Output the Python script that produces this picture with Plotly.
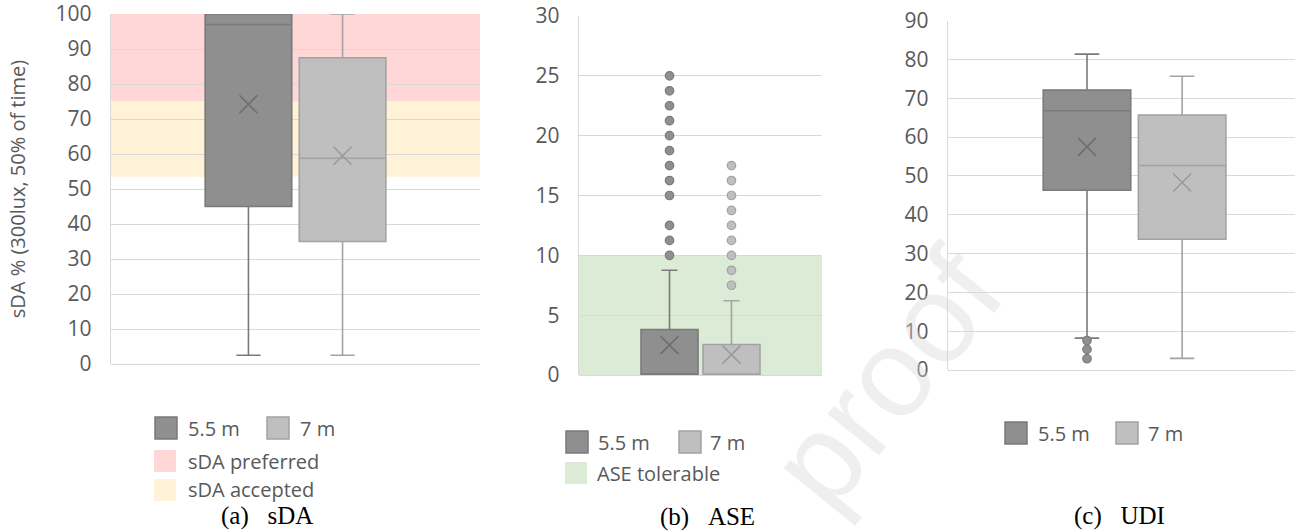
import plotly.graph_objects as go

W, H = 1295, 531

# ---------------- data ----------------
CATEGORY = ["all"]
SERIES = ["5.5 m", "7 m"]

# (a) sDA
sda_q1 = [45.0, 35.0]
sda_median = [97.0, 58.8]
sda_q3 = [100.0, 87.5]
sda_lower = [2.5, 2.5]
sda_upper = [100.0, 100.0]
sda_mean = [74.2, 59.5]
sda_outliers = [[], []]
sda_preferred = [75.0, 100.0]
sda_accepted = [53.5, 75.0]

# (b) ASE
ase_q1 = [0.0, 0.0]
ase_median = [0.0, 0.0]
ase_q3 = [3.8, 2.55]
ase_lower = [0.0, 0.0]
ase_upper = [8.75, 6.2]
ase_mean = [2.5, 1.7]
ase_outliers = [
    [10.0, 11.25, 12.5, 15.0, 16.25, 17.5, 18.75, 20.0, 21.25, 22.5, 23.75, 25.0],
    [7.5, 8.75, 10.0, 11.25, 12.5, 13.75, 15.0, 16.25, 17.5],
]
ase_tolerable = [0.0, 10.0]

# (c) UDI
udi_q1 = [46.3, 33.7]
udi_median = [66.8, 52.7]
udi_q3 = [72.1, 65.7]
udi_lower = [8.2, 3.0]
udi_upper = [81.4, 75.7]
udi_mean = [57.5, 48.3]
udi_outliers = [[7.6, 5.3, 2.9], []]

# ---------------- style ----------------
FILL = ["#8F8F8F", "#BFBFBF"]
EDGE = ["#7A7A7A", "#A3A3A3"]
MEANC = ["#6E6E6E", "#9A9A9A"]
GRID = "#D9D9D9"
TXT = "#595959"
FONT = "Open Sans"


def px(x):
    return x / W


def py(y):
    return 1 - y / H


fig = go.Figure()

panels = [
    dict(key="a", xa="x", ya="y", q1=sda_q1, med=sda_median, q3=sda_q3, lo=sda_lower,
         hi=sda_upper, mean=sda_mean, out=sda_outliers),
    dict(key="b", xa="x2", ya="y2", q1=ase_q1, med=ase_median, q3=ase_q3, lo=ase_lower,
         hi=ase_upper, mean=ase_mean, out=ase_outliers),
    dict(key="c", xa="x3", ya="y3", q1=udi_q1, med=udi_median, q3=udi_q3, lo=udi_lower,
         hi=udi_upper, mean=udi_mean, out=udi_outliers),
]

for p in panels:
    for i, s in enumerate(SERIES):
        kw = {}
        if p["out"][i]:
            kw["y"] = [p["out"][i]]
            kw["boxpoints"] = "outliers"
        else:
            kw["boxpoints"] = False
        fig.add_trace(go.Box(
            name=s, x=CATEGORY, q1=[p["q1"][i]], median=[p["med"][i]], q3=[p["q3"][i]],
            lowerfence=[p["lo"][i]], upperfence=[p["hi"][i]],
            orientation="v", jitter=0, pointpos=0, whiskerwidth=0.28,
            fillcolor=FILL[i], line=dict(color=EDGE[i], width=1.6),
            marker=dict(color=FILL[i], size=8.5, line=dict(color=EDGE[i], width=1.2)),
            offsetgroup=s, alignmentgroup=p["key"],
            xaxis=p["xa"], yaxis=p["ya"], showlegend=False, hoverinfo="skip",
            **kw))
        fig.add_trace(go.Scatter(
            x=CATEGORY, y=[p["mean"][i]], mode="markers",
            marker=dict(symbol="x-thin", size=18, color=MEANC[i],
                        line=dict(color=MEANC[i], width=1.6)),
            offsetgroup=s, alignmentgroup=p["key"],
            xaxis=p["xa"], yaxis=p["ya"], showlegend=False, hoverinfo="skip"))

# background bands
shapes = []
for (y0, y1), col, xr, yr in [
    (sda_preferred, "#FFD7D7", "x", "y"),
    (sda_accepted, "#FFF2D6", "x", "y"),
    (ase_tolerable, "#DCEBD5", "x2", "y2"),
]:
    shapes.append(dict(type="rect", xref=f"{xr} domain", yref=yr, x0=0, x1=1, y0=y0, y1=y1,
                       fillcolor=col, line=dict(width=0), layer="below"))

annotations = []


def swatch(x0, y0, fill, edge=None, size=22):
    shapes.append(dict(type="rect", xref="paper", yref="paper",
                       x0=px(x0), x1=px(x0 + size), y0=py(y0), y1=py(y0 + size),
                       fillcolor=fill,
                       line=dict(color=edge if edge else fill, width=1.5 if edge else 0)))


def label(x, y, text, size=20, color=TXT, family=FONT, xanchor="left"):
    annotations.append(dict(xref="paper", yref="paper", x=px(x), y=py(y), text=text,
                            showarrow=False, xanchor=xanchor, yanchor="middle",
                            font=dict(family=family, size=size, color=color)))


# legend (a)
swatch(155, 417, FILL[0], EDGE[0]); label(186, 428, SERIES[0])
swatch(267, 417, FILL[1], EDGE[1]); label(298, 428, SERIES[1])
swatch(154, 450, "#FFD7D7"); label(186, 461, "sDA preferred")
swatch(154, 479, "#FFF2D6"); label(186, 489, "sDA accepted")
# legend (b)
swatch(566, 431, FILL[0], EDGE[0]); label(596, 442, SERIES[0])
swatch(679, 431, FILL[1], EDGE[1]); label(708, 442, SERIES[1])
swatch(565, 462, "#DCEBD5"); label(595, 473, "ASE tolerable")
# legend (c)
swatch(1005, 422, FILL[0], EDGE[0]); label(1036, 433, SERIES[0])
swatch(1116, 422, FILL[1], EDGE[1]); label(1146, 433, SERIES[1])

# captions
cap = "\u00a0\u00a0\u00a0"
label(267, 516, "(a)" + cap + "sDA", size=25, color="black", family="Liberation Serif", xanchor="center")
label(707, 517, "(b)" + cap + "ASE", size=25, color="black", family="Liberation Serif", xanchor="center")
label(1119, 516, "(c)" + cap + "UDI", size=25, color="black", family="Liberation Serif", xanchor="center")

# faint watermark
annotations.append(dict(xref="paper", yref="paper", x=px(885), y=py(378), text="proof",
                        showarrow=False, textangle=-51, xanchor="center", yanchor="middle",
                        font=dict(family="Liberation Sans", size=125, color="rgba(215,215,215,0.4)")))


def yaxis_style(domain, rng, dtick, xa):
    return dict(domain=domain, range=rng, dtick=dtick, tick0=0, anchor=xa,
                showgrid=True, gridcolor=GRID, gridwidth=1.4,
                zeroline=True, zerolinecolor=GRID, zerolinewidth=1.4,
                showline=True, linecolor=GRID, linewidth=1.4,
                ticks="", ticklabelstandoff=14, automargin=False,
                ticklabeloverflow="allow",
                tickfont=dict(family=FONT, size=21, color=TXT), fixedrange=True)


def xaxis_style(domain, rng, ya):
    return dict(domain=domain, range=rng, anchor=ya, type="category",
                showgrid=False, zeroline=False, showline=False, showticklabels=False,
                ticks="", fixedrange=True, automargin=False)


fig.update_layout(
    width=W, height=H,
    margin=dict(l=0, r=0, t=0, b=0, autoexpand=False),
    paper_bgcolor="white", plot_bgcolor="rgba(0,0,0,0)",
    boxmode="group", boxgap=0.49, boxgroupgap=0.08,
    scattermode="group", scattergap=0.49,
    xaxis=xaxis_style([px(111), px(480)], [-0.5, 0.5], "y"),
    xaxis2=xaxis_style([px(579), px(822)], [-0.5, 0.5], "y2"),
    xaxis3=xaxis_style([px(948), 1.0], [-0.5, 0.43], "y3"),
    yaxis=yaxis_style([py(364), py(14)], [0, 100], 10, "x"),
    yaxis2=yaxis_style([py(375), py(16)], [0, 30], 5, "x2"),
    yaxis3=yaxis_style([py(370), py(20.7)], [0, 90], 10, "x3"),
    shapes=shapes, annotations=annotations,
)
fig.update_layout(yaxis_title=dict(text="sDA % (300lux, 50% of time)", standoff=24,
                                   font=dict(family=FONT, size=20, color=TXT)))

fig.write_html("out.html", config={"displayModeBar": False},
               post_script="document.body.style.margin='0';document.body.style.overflow='hidden';")
